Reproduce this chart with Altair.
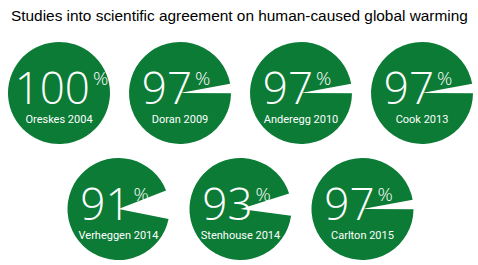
import math
import altair as alt
import pandas as pd

# Consensus studies and the share of papers/experts agreeing (%)
studies = ["Oreskes 2004", "Doran 2009", "Anderegg 2010", "Cook 2013",
           "Verheggen 2014", "Stenhouse 2014", "Carlton 2015"]
consensus = [100, 97, 97, 97, 91, 93, 97]

GREEN = "#0b7b35"
SIZE = 100
R = 51
NUM_FONT = "Open Sans"
# the missing (non-consensus) slice is centred just above 3 o'clock
GAP_CENTER = math.radians(85)
theta_scale = alt.Scale(domain=[0, 100], range=[GAP_CENTER, GAP_CENTER + 2 * math.pi])


def pie(study, pct):
    df = pd.DataFrame({"study": [study], "pct": [pct], "pct_label": [str(pct)]})
    base = alt.Chart(df).transform_calculate(
        start="(100 - datum.pct) / 2",
        end="100 - (100 - datum.pct) / 2",
    )
    arc = base.mark_arc(outerRadius=R, color=GREEN).encode(
        theta=alt.Theta("start:Q", scale=theta_scale),
        theta2="end:Q",
    )
    digits = len(str(pct))
    x_right = SIZE / 2 + 12 + (digits - 2) * 19
    number = base.mark_text(
        align="right", baseline="alphabetic", fontSize=44, font=NUM_FONT,
        fontWeight=300, color="white",
    ).encode(x=alt.value(x_right), y=alt.value(61), text="pct_label:N")
    percent = base.mark_text(
        align="left", baseline="alphabetic", fontSize=19, font=NUM_FONT,
        fontWeight=300, color="white",
    ).encode(x=alt.value(x_right + 3), y=alt.value(42), text=alt.value("%"))
    label = base.mark_text(
        align="center", baseline="alphabetic", fontSize=11, font="Roboto",
        color="white",
    ).encode(x=alt.value(SIZE / 2), y=alt.value(80), text="study:N")
    return alt.layer(arc, number, percent, label).properties(width=SIZE, height=SIZE)


pies = [pie(s, p) for s, p in zip(studies, consensus)]
row1 = alt.hconcat(*pies[:4], spacing=19)
row2 = alt.hconcat(*pies[4:], spacing=20)

chart = (
    alt.vconcat(row1, row2, spacing=14, center=True)
    .properties(
        title=alt.TitleParams(
            "Studies into scientific agreement on human-caused global warming",
            anchor="start", fontSize=15.4, font="Liberation Sans",
            fontWeight="normal", color="black", offset=18, dx=3,
        ),
        padding={"left": 8, "top": 8, "right": 0, "bottom": 0},
        background="white",
    )
    .configure_view(stroke=None)
)

chart.save("out.html", embed_options={"renderer": "svg", "actions": False})
